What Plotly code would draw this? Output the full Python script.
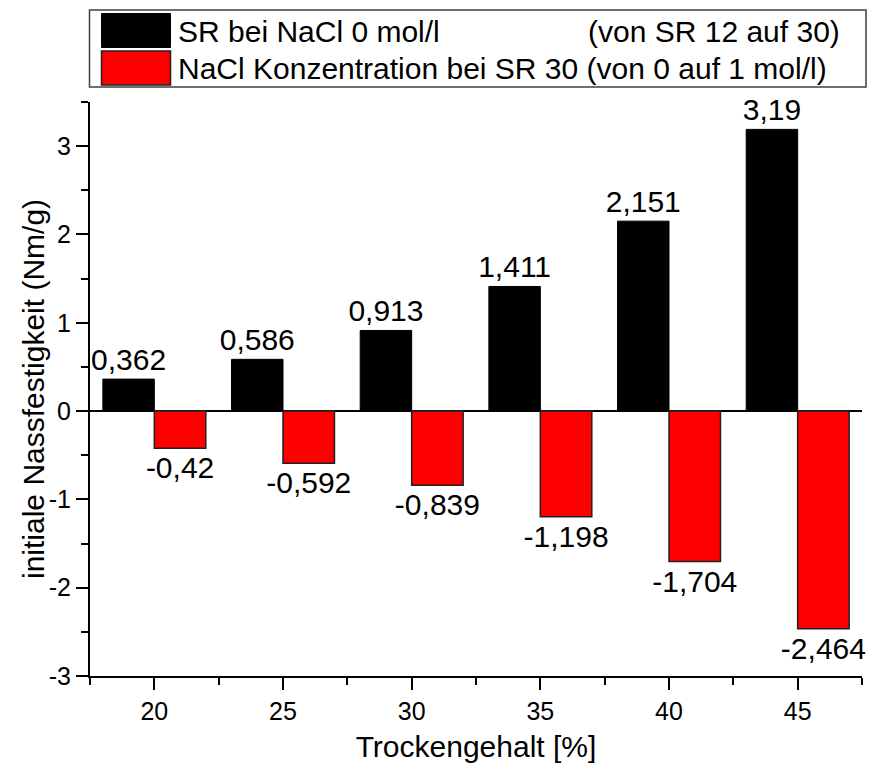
import plotly.graph_objects as go

# Dry content (%) and initial wet strength changes (Nm/g)
trockengehalt = [20, 25, 30, 35, 40, 45]
sr_werte = [0.362, 0.586, 0.913, 1.411, 2.151, 3.19]
nacl_werte = [-0.42, -0.592, -0.839, -1.198, -1.704, -2.464]

y_ticks = [-3, -2, -1, 0, 1, 2, 3]
y_ticktext = ["-3", "-2", "-1", "0", "1", "2", "3"]

serie_sr = "SR bei NaCl 0 mol/l"
serie_sr_zusatz = "(von SR 12 auf 30)"
serie_nacl = "NaCl Konzentration bei SR 30 (von 0 auf 1 mol/l)"

x_titel = "Trockengehalt [%]"
y_titel = "initiale Nassfestigkeit (Nm/g)"


def de_zahl(v):
    return str(v).replace(".", ",")


FONT = "Liberation Sans, Arial, sans-serif"
W, H = 869, 769
ML, MR, MT, MB = 90, 7, 102, 93
PW, PH = W - ML - MR, H - MT - MB


def px(x):
    return (x - ML) / PW


def py(y):
    return (H - MB - y) / PH


fig = go.Figure()
fig.add_trace(go.Bar(
    x=trockengehalt, y=sr_werte, width=2, offset=-2,
    marker=dict(color="black", line=dict(color="black", width=1)),
    text=[de_zahl(v) for v in sr_werte], textposition="outside",
    constraintext="none", cliponaxis=False,
    textfont=dict(family=FONT, size=30, color="black"),
    name=serie_sr, showlegend=False,
))
fig.add_trace(go.Bar(
    x=trockengehalt, y=nacl_werte, width=2, offset=0,
    marker=dict(color="#ff0000", line=dict(color="#202020", width=1.5)),
    text=[de_zahl(v) for v in nacl_werte], textposition="outside",
    constraintext="none", cliponaxis=False,
    textfont=dict(family=FONT, size=30, color="black"),
    name=serie_nacl, showlegend=False,
))

# Legend box drawn by hand: frame, two swatches, labels
shapes = [
    dict(type="rect", xref="paper", yref="paper",
         x0=px(89.5), x1=px(866), y0=py(87), y1=py(10),
         line=dict(color="#404040", width=1.5), fillcolor="white"),
    dict(type="rect", xref="paper", yref="paper",
         x0=px(101.5), x1=px(170.5), y0=py(47.5), y1=py(13.5),
         line=dict(color="black", width=1), fillcolor="black"),
    dict(type="rect", xref="paper", yref="paper",
         x0=px(101.5), x1=px(170.5), y0=py(85), y1=py(51),
         line=dict(color="#202020", width=1.5), fillcolor="#ff0000"),
]
annotations = [
    dict(text=serie_sr, xref="paper", yref="paper", x=px(176), y=py(31),
         xanchor="left", yanchor="middle", showarrow=False,
         font=dict(family=FONT, size=30, color="black")),
    dict(text=serie_sr_zusatz, xref="paper", yref="paper", x=px(842), y=py(31),
         xanchor="right", yanchor="middle", showarrow=False,
         font=dict(family=FONT, size=30, color="black")),
    dict(text=serie_nacl, xref="paper", yref="paper", x=px(176), y=py(69),
         xanchor="left", yanchor="middle", showarrow=False,
         font=dict(family=FONT, size=30, color="black")),
    # y-axis title placed beside the tick labels
    dict(text=y_titel, xref="paper", yref="paper", x=px(33), y=0.5,
         xanchor="center", yanchor="middle", textangle=-90, showarrow=False,
         font=dict(family=FONT, size=30, color="black")),
]

achse = dict(
    showline=True, linecolor="black", linewidth=2,
    ticks="outside", ticklen=12, tickwidth=2, tickcolor="black",
    showgrid=False, mirror=False,
    tickfont=dict(family=FONT, size=25, color="black"),
)

fig.update_layout(
    width=W, height=H,
    margin=dict(l=ML, r=MR, t=MT, b=MB),
    paper_bgcolor="white", plot_bgcolor="white",
    barmode="overlay", showlegend=False,
    shapes=shapes, annotations=annotations,
    xaxis=dict(
        **achse, range=[17.5, 47.5], tickvals=trockengehalt, zeroline=False,
        minor=dict(dtick=2.5, tick0=17.5, ticks="outside", ticklen=7,
                   tickwidth=2, tickcolor="black"),
        title=dict(text=x_titel, font=dict(family=FONT, size=30, color="black"),
                   standoff=12),
    ),
    yaxis=dict(
        **achse, range=[-3, 3.5], tickvals=y_ticks, ticktext=y_ticktext,
        zeroline=True, zerolinecolor="black", zerolinewidth=1.5,
        minor=dict(dtick=0.5, tick0=0, ticks="outside", ticklen=7,
                   tickwidth=2, tickcolor="black"),
    ),
)

fig.write_html("out.html")
